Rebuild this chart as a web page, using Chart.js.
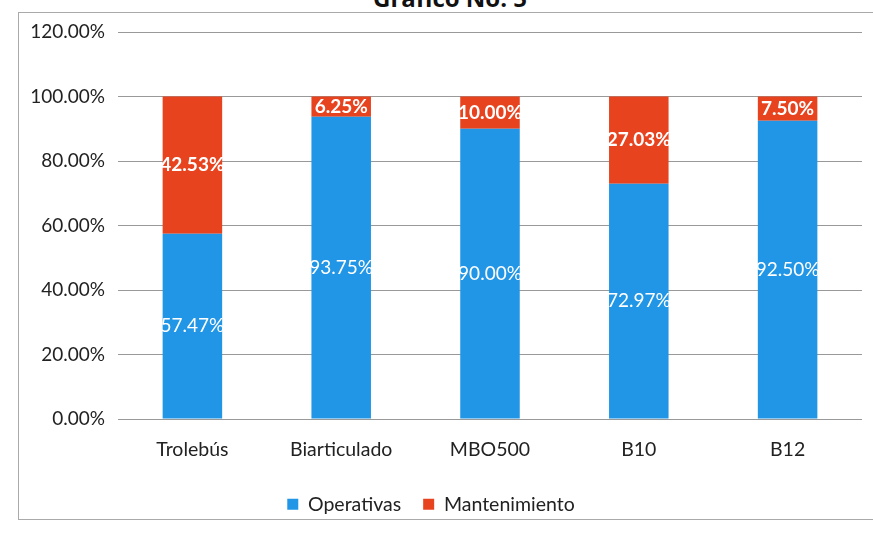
<!DOCTYPE html>
<html><head><meta charset="utf-8">
<script src="https://cdn.jsdelivr.net/npm/chart.js@4/dist/chart.umd.min.js"></script>
<style>
html,body{margin:0;padding:0;background:#fff;overflow:hidden;}
#wrap{position:relative;width:873px;height:533px;overflow:hidden;}
.ln{position:absolute;background:#aaa;}
#title{position:absolute;left:0;width:900px;top:-19px;text-align:center;font:bold 24px "Open Sans",sans-serif;color:#111;}
canvas{position:absolute;left:0;top:0;}
</style></head>
<body><div id="wrap">
<div class="ln" style="left:18px;top:12px;width:855px;height:1px"></div>
<div class="ln" style="left:18px;top:12px;width:1px;height:508px"></div>
<div class="ln" style="left:18px;top:519px;width:855px;height:1px"></div>
<div id="title">Gráfico No. 5</div><canvas id="c" width="873" height="533"></canvas></div>
<script>
const categories = ["Trolebús","Biarticulado","MBO500","B10","B12"];
const operativas = [57.47, 93.75, 90.00, 72.97, 92.50];
const mantenimiento = [42.53, 6.25, 10.00, 27.03, 7.50];
const yTicks = [0,20,40,60,80,100,120];

const labelPlugin = {
  id:'segLabels',
  afterDatasetsDraw(chart){
    const ctx = chart.ctx;
    chart.data.datasets.forEach((ds,di)=>{
      const meta = chart.getDatasetMeta(di);
      meta.data.forEach((bar,i)=>{
        const cy = (bar.y+bar.base)/2;
        ctx.save();
        ctx.fillStyle = '#fff';
        ctx.font = (di===1?'bold ':'') + '19px Lato, sans-serif';
        ctx.textAlign='center'; ctx.textBaseline='middle';
        ctx.fillText(ds.data[i].toFixed(2)+'%', bar.x, cy);
        ctx.restore();
      });
    });
  }
};

new Chart(document.getElementById('c'),{
  type:'bar',
  data:{labels:categories,datasets:[
    {label:'Operativas',data:operativas,backgroundColor:'#2196e6',barPercentage:0.8,categoryPercentage:0.5},
    {label:'Mantenimiento',data:mantenimiento,backgroundColor:'#e8431f',barPercentage:0.8,categoryPercentage:0.5}
  ]},
  options:{
    responsive:false,animation:false,
    layout:{padding:{left:0,right:11,top:32,bottom:9}},
    plugins:{
      legend:{position:'bottom',labels:{boxWidth:11,boxHeight:11,padding:22,color:'#222',font:{family:'Lato, sans-serif',size:19.5}}},
      tooltip:{enabled:false}
    },
    scales:{
      x:{stacked:true,grid:{display:false},border:{display:false},
        ticks:{color:'#222',padding:11,font:{family:'Lato, sans-serif',size:19.5}}},
      y:{stacked:true,min:0,max:120,
        afterFit(s){s.width=118;},
        afterBuildTicks(s){s.ticks=yTicks.map(v=>({value:v}));},
        grid:{color:'#999',drawTicks:false},border:{display:false},
        ticks:{color:'#222',padding:13,font:{family:'Lato, sans-serif',size:19},callback:v=>v.toFixed(2)+'%'}}
    }
  },
  plugins:[labelPlugin]
});
</script></body></html>
